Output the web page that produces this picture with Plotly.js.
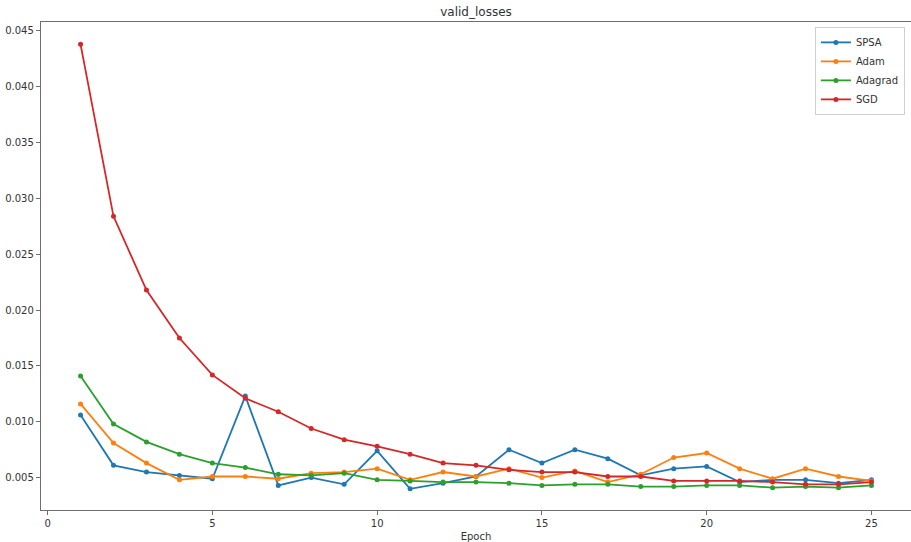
<!DOCTYPE html>
<html>
<head>
<meta charset="utf-8">
<script src="https://cdn.plot.ly/plotly-3.0.1.min.js"></script>
<style>html,body{margin:0;padding:0;background:#fff;}#chart{width:911px;height:542px;}</style>
</head>
<body>
<div id="chart"></div>
<script>
const epochs = [1,2,3,4,5,6,7,8,9,10,11,12,13,14,15,16,17,18,19,20,21,22,23,24,25];
const spsa = [0.0106,0.0061,0.0055,0.0052,0.0049,0.0123,0.0043,0.0050,0.0044,0.0074,0.0040,0.0045,0.0051,0.0075,0.0063,0.0075,0.0067,0.0052,0.0058,0.0060,0.0046,0.0048,0.0048,0.0045,0.0048];
const adam = [0.0116,0.0081,0.0063,0.0048,0.0051,0.0051,0.0049,0.0054,0.0055,0.0058,0.0048,0.0055,0.0051,0.0058,0.0050,0.0056,0.0046,0.0053,0.0068,0.0072,0.0058,0.0049,0.0058,0.0051,0.0047];
const adagrad = [0.0141,0.0098,0.0082,0.0071,0.0063,0.0059,0.0053,0.0052,0.0054,0.0048,0.0047,0.0046,0.0046,0.0045,0.0043,0.0044,0.0044,0.0042,0.0042,0.0043,0.0043,0.0041,0.0042,0.0041,0.0043];
const sgd = [0.0438,0.0284,0.0218,0.0175,0.0142,0.0121,0.0109,0.0094,0.0084,0.0078,0.0071,0.0063,0.0061,0.0057,0.0055,0.0055,0.0051,0.0051,0.0047,0.0047,0.0047,0.0046,0.0044,0.0044,0.0046];
const seriesNames = ['SPSA','Adam','Adagrad','SGD'];
const seriesData = [spsa, adam, adagrad, sgd];
const colors = ['#1f77b4','#ff7f0e','#2ca02c','#d62728'];
const xTicks = [0,5,10,15,20,25];
const yTicks = [0.005,0.010,0.015,0.020,0.025,0.030,0.035,0.040,0.045];

const traces = seriesNames.map((n,i)=>({
  x: epochs, y: seriesData[i], name: n, type: 'scatter', mode: 'lines+markers',
  line: {color: colors[i], width: 1.8},
  marker: {color: colors[i], size: 5}
}));

const axisCommon = {
  showgrid: false, zeroline: false, showline: true, linecolor: '#6e6e6e', linewidth: 1.2,
  ticks: 'outside', ticklen: 4, tickcolor: '#6e6e6e', tickwidth: 1,
  tickfont: {family: 'DejaVu Sans', size: 10, color: '#333'}
};

const layout = {
  width: 911, height: 542,
  margin: {l: 41, r: 0, t: 22, b: 32},
  paper_bgcolor: '#fff', plot_bgcolor: '#fff',
  font: {family: 'DejaVu Sans', color: '#333'},
  title: {text: 'valid_losses', font: {family: 'DejaVu Sans', size: 12, color: '#333'}, x: 0.5, xref: 'paper', y: 1 - 12/542, yref: 'container', yanchor: 'middle'},
  xaxis: Object.assign({}, axisCommon, {range: [-0.2, 26.2], tickvals: xTicks, ticktext: xTicks.map(String), mirror: true,
    title: {text: 'Epoch', font: {family: 'DejaVu Sans', size: 10, color: '#333'}, standoff: 6}}),
  yaxis: Object.assign({}, axisCommon, {range: [0.0021, 0.0458], tickvals: yTicks, ticktext: yTicks.map(v=>v.toFixed(3)), mirror: true}),
  legend: {x: 0.993, xanchor: 'right', y: 0.99, yanchor: 'top', bgcolor: '#fff', bordercolor: '#d0d0d0', borderwidth: 1,
    font: {family: 'DejaVu Sans', size: 10, color: '#333'}, tracegroupgap: 0}
};

Plotly.newPlot('chart', traces, layout, {displayModeBar: false, staticPlot: true});
</script>
</body>
</html>
